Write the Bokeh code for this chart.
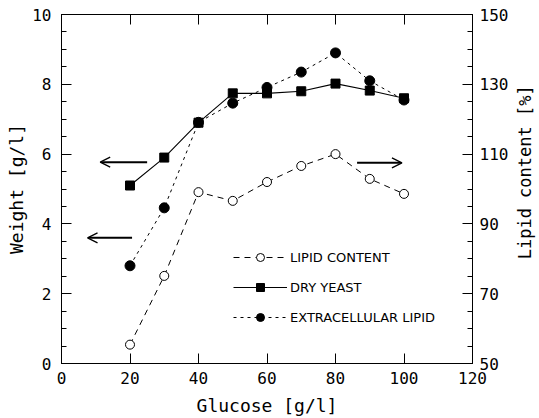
import math
from bokeh.plotting import figure
from bokeh.layouts import row
from bokeh.models import (Range1d, LinearAxis, FixedTicker, Legend, LegendItem,
                          Arrow, OpenHead)
from bokeh.core.properties import value
from bokeh.embed import file_html
from bokeh.resources import INLINE

glucose = [20, 30, 40, 50, 60, 70, 80, 90, 100]
dry_yeast = [5.1, 5.9, 6.9, 7.74, 7.74, 7.8, 8.02, 7.82, 7.6]
extracellular_lipid = [2.8, 4.46, 6.91, 7.46, 7.91, 8.35, 8.9, 8.1, 7.55]
lipid_content = [55.4, 75.1, 99.1, 96.6, 102.0, 106.6, 110.0, 102.9, 98.6]

x_ticks = [0, 20, 40, 60, 80, 100, 120]
left_ticks = [0, 2, 4, 6, 8, 10]
right_ticks = [50, 70, 90, 110, 130, 150]
right_title = ["Lipid content [%]"]

# arrows pointing at the axis each curve belongs to (x in g/l, y in left units)
arrow_x_start = [25.0, 20.6, 86.3]
arrow_x_end = [11.3, 7.6, 99.4]
arrow_y = [5.77, 3.6, 5.75]

FONT = "DejaVu Sans Mono"

p = figure(width=511, height=418, output_backend="svg", toolbar_location=None,
           x_range=Range1d(0, 120), y_range=Range1d(0, 10),
           min_border_left=61, min_border_right=37, min_border_top=14,
           min_border_bottom=54)
p.extra_y_ranges = {"right": Range1d(50, 150)}
p.grid.visible = False
p.outline_line_color = "black"
p.outline_line_width = 1
p.background_fill_color = "white"
p.border_fill_color = "white"

def style_axis(ax, ticks, minor, label_size="16px"):
    ax.ticker = FixedTicker(ticks=ticks, minor_ticks=minor)
    ax.major_tick_in = 10
    ax.major_tick_out = 0
    ax.minor_tick_in = 5
    ax.minor_tick_out = 0
    ax.axis_line_color = "black"
    ax.major_tick_line_color = "black"
    ax.minor_tick_line_color = "black"
    ax.major_label_text_font = FONT
    ax.major_label_text_font_size = label_size
    ax.major_label_text_color = "black"
    ax.axis_label_text_font = FONT
    ax.axis_label_text_font_size = "18px"
    ax.axis_label_text_font_style = "normal"
    ax.axis_label_text_color = "black"

xa = p.xaxis[0]
style_axis(xa, x_ticks, [])
xa.axis_label = "Glucose [g/l]"
xa.major_label_standoff = 8
xa.axis_label_standoff = 8

ya = p.yaxis[0]
style_axis(ya, left_ticks, [i * 0.5 for i in range(21)])
ya.axis_label = "Weight [g/l]"
ya.major_label_standoff = 10
ya.axis_label_standoff = 2

ra = LinearAxis(y_range_name="right")
style_axis(ra, right_ticks, [50 + i * 5 for i in range(21)])
ra.major_label_standoff = 7
p.add_layout(ra, "right")

ta = LinearAxis()
style_axis(ta, x_ticks, [])
ta.major_label_text_alpha = 0
ta.major_label_text_font_size = "1px"
ta.major_label_standoff = 0
p.add_layout(ta, "above")

# series
lc_line = p.line(glucose, lipid_content, y_range_name="right", line_color="black",
                 line_width=1, line_dash="6 5")
lc_pts = p.scatter(glucose, lipid_content, y_range_name="right", marker="circle",
                   size=9, fill_color="white", line_color="black", line_width=1)

dy_line = p.line(glucose, dry_yeast, line_color="black", line_width=1.1)
dy_pts = p.scatter(glucose, dry_yeast, marker="square", size=9,
                   fill_color="black", line_color="black")

ex_line = p.line(glucose, extracellular_lipid, line_color="black", line_width=1,
                 line_dash="3 4")
ex_pts = p.scatter(glucose, extracellular_lipid, marker="circle", size=10,
                   fill_color="black", line_color="black")

for xs, xe, yy in zip(arrow_x_start, arrow_x_end, arrow_y):
    p.add_layout(Arrow(end=OpenHead(size=10, line_width=1.3, line_color="black"),
                       x_start=xs, y_start=yy, x_end=xe, y_end=yy,
                       line_width=2, line_color="black"))

legend = Legend(items=[
    LegendItem(label="LIPID CONTENT", renderers=[lc_line, lc_pts]),
    LegendItem(label="DRY YEAST", renderers=[dy_line, dy_pts]),
    LegendItem(label="EXTRACELLULAR LIPID", renderers=[ex_line, ex_pts]),
], location=(172, 36))
legend.glyph_width = 54
legend.glyph_height = 20
legend.label_height = 20
legend.spacing = 10
legend.padding = 0
legend.margin = 0
legend.label_standoff = 3
legend.border_line_alpha = 0
legend.background_fill_alpha = 0
legend.label_text_font = "DejaVu Sans"
legend.label_text_font_size = "13px"
legend.label_text_color = "black"
p.add_layout(legend, "center")

# narrow strip holding the right-hand axis title (reads bottom to top)
p2 = figure(width=28, height=418, output_backend="svg", toolbar_location=None,
            x_range=Range1d(0, 28), y_range=Range1d(0, 418), min_border=0)
p2.axis.visible = False
p2.grid.visible = False
p2.outline_line_color = None
p2.background_fill_color = "white"
p2.border_fill_color = "white"
p2.text(x=[13], y=[229], text=right_title, angle=math.pi / 2,
        text_align="center", text_baseline="middle",
        text_font=value(FONT), text_font_size="17px", text_color="black")

open("out.html", "w").write(file_html(row(p, p2, spacing=0), INLINE))
